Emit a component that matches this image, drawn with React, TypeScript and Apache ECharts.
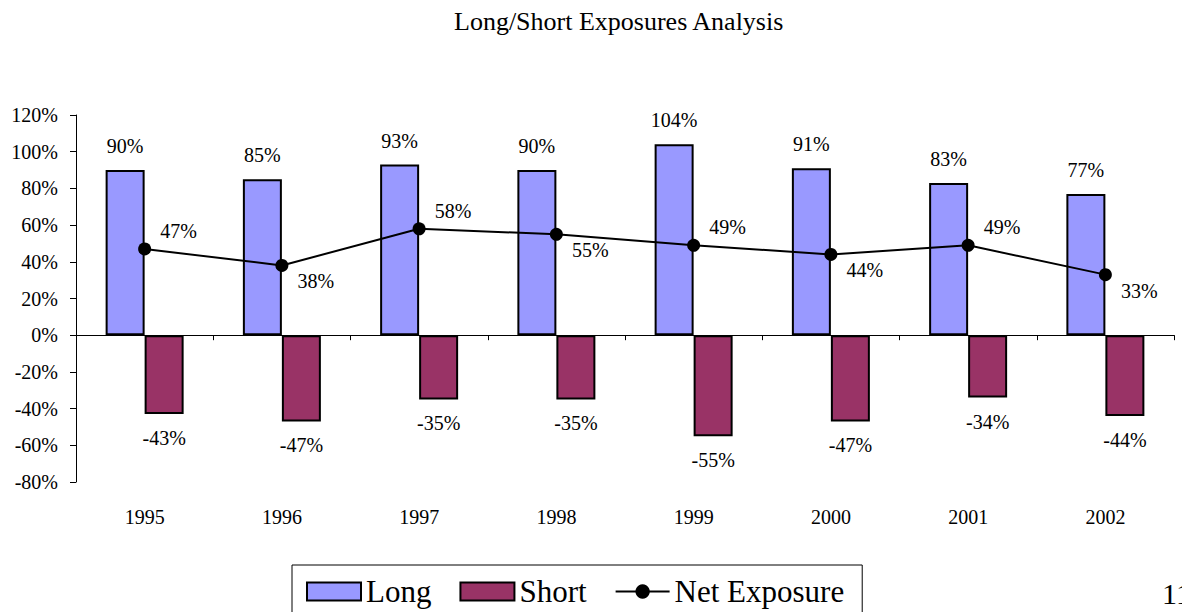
import React, { useEffect, useRef } from "react";
import * as echarts from "echarts";

const years = ["1995", "1996", "1997", "1998", "1999", "2000", "2001", "2002"];
const longExposure = [90, 85, 93, 90, 104, 91, 83, 77];
const shortExposure = [-43, -47, -35, -35, -55, -47, -34, -44];
const netExposure = [47, 38, 58, 55, 49, 44, 49, 33];
const yTicks = { min: -80, max: 120, interval: 20 };

// label placement (style only): true = above-right, false = below-right
const netLabelAbove = [true, false, true, false, true, false, true, false];

const FONT = "Liberation Serif";

export default function App() {
  const ref = useRef<HTMLDivElement>(null);
  useEffect(() => {
    if (!ref.current) return;
    const chart = echarts.init(ref.current, null, { renderer: "svg" });
    const lbl = { fontFamily: FONT, fontSize: 20, color: "#000" };
    chart.setOption({
      animation: false,
      backgroundColor: "#fff",
      textStyle: { fontFamily: FONT },
      title: {
        text: "Long/Short Exposures Analysis",
        left: 449,
        top: 3,
        textStyle: { fontFamily: FONT, fontSize: 26, fontWeight: "normal", color: "#000" },
      },
      grid: { left: 76, right: 8, top: 115, height: 367 },
      legend: {
        left: 292,
        top: 565,
        orient: "horizontal",
        itemWidth: 54,
        itemHeight: 18,
        itemGap: 28,
        padding: [11, 18, 10, 14],
        borderColor: "#000",
        borderWidth: 1,
        textStyle: { fontFamily: FONT, fontSize: 31, color: "#000" },
        data: [
          { name: "Long", icon: "rect" },
          { name: "Short", icon: "rect" },
          { name: "Net Exposure" },
        ],
      },
      xAxis: [
        {
          type: "category",
          data: years,
          axisLine: { onZero: true, lineStyle: { color: "#000", width: 1 } },
          axisTick: { show: true, length: 5, lineStyle: { color: "#000" } },
          axisLabel: { show: false },
          splitLine: { show: false },
        },
        {
          type: "category",
          data: years,
          position: "bottom",
          axisLine: { show: false, onZero: false },
          axisTick: { show: false },
          axisLabel: { ...lbl, margin: 25 },
          splitLine: { show: false },
        },
      ],
      yAxis: {
        type: "value",
        min: yTicks.min,
        max: yTicks.max,
        interval: yTicks.interval,
        axisLine: { show: true, lineStyle: { color: "#000", width: 1 } },
        axisTick: { show: true, length: 6, lineStyle: { color: "#000" } },
        axisLabel: { ...lbl, margin: 18, formatter: "{value}%" },
        splitLine: { show: false },
      },
      series: [
        {
          name: "Long",
          type: "bar",
          xAxisIndex: 0,
          data: longExposure,
          barWidth: 39,
          barGap: "0%",
          itemStyle: { color: "#9999FF", borderColor: "#000", borderWidth: 2 },
          label: { show: true, position: "top", distance: 14, formatter: "{c}%", ...lbl },
        },
        {
          name: "Short",
          type: "bar",
          xAxisIndex: 0,
          data: shortExposure,
          barWidth: 39,
          barGap: "0%",
          itemStyle: { color: "#993366", borderColor: "#000", borderWidth: 2 },
          label: { show: true, position: "bottom", distance: 14, formatter: "{c}%", ...lbl },
        },
        {
          name: "Net Exposure",
          type: "line",
          xAxisIndex: 0,
          z: 5,
          symbol: "circle",
          symbolSize: 13,
          itemStyle: { color: "#000" },
          lineStyle: { color: "#000", width: 2 },
          data: netExposure.map((v, i) => ({
            value: v,
            label: {
              show: true,
              position: "right",
              distance: 9,
              offset: [0, netLabelAbove[i] ? -18 : 16],
              formatter: "{c}%",
              ...lbl,
            },
          })),
        },
      ],
      graphic: [
        {
          type: "text",
          left: 1162,
          top: 578,
          style: { text: "11", fontFamily: FONT, fontSize: 30, fill: "#000" },
        },
      ],
    });
    return () => chart.dispose();
  }, []);
  return <div ref={ref} style={{ width: 1182, height: 612, position: "absolute", left: 0, top: 0 }} />;
}
